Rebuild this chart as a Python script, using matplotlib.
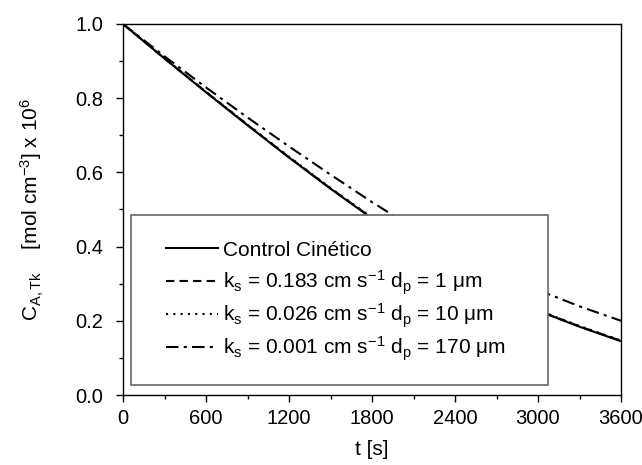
import matplotlib
matplotlib.use("Agg")
import matplotlib.pyplot as plt
from matplotlib.patches import Rectangle
from matplotlib.legend import Legend
from matplotlib.ticker import MultipleLocator, FormatStrFormatter

plt.rcParams['font.family'] = ['Liberation Sans', 'DejaVu Sans']
plt.rcParams['mathtext.default'] = 'regular'
plt.rcParams['font.size'] = 15

t = [0, 300, 600, 900, 1200, 1500, 1800, 2100, 2400, 2700, 3000, 3300, 3600]
control = [1.0, 0.907, 0.816, 0.727, 0.640, 0.556, 0.476, 0.402, 0.335, 0.277, 0.227, 0.184, 0.145]
ks_0183 = [1.0, 0.907, 0.817, 0.728, 0.641, 0.557, 0.477, 0.403, 0.336, 0.278, 0.228, 0.185, 0.146]
ks_0026 = [1.0, 0.908, 0.817, 0.729, 0.642, 0.558, 0.478, 0.404, 0.337, 0.279, 0.229, 0.186, 0.147]
ks_0001 = [1.0, 0.913, 0.829, 0.748, 0.670, 0.594, 0.520, 0.450, 0.388, 0.333, 0.283, 0.239, 0.200]

labels = ["Control Cinético",
          r"k$_s$ = 0.183 cm s$^{-1}$ d$_p$ = 1 μm",
          r"k$_s$ = 0.026 cm s$^{-1}$ d$_p$ = 10 μm",
          r"k$_s$ = 0.001 cm s$^{-1}$ d$_p$ = 170 μm"]

fig = plt.figure(figsize=(6.42, 4.65), dpi=100)
ax = fig.add_axes([123/642, 1-395/465, 498/642, 371/465])

lw = 1.5
h1, = ax.plot(t, control, color='black', lw=lw, ls='-')
h2, = ax.plot(t, ks_0183, color='black', lw=lw, ls=(0, (4, 2.5)))
h3, = ax.plot(t, ks_0026, color='black', lw=lw, ls=(0, (1, 2.5)))
h4, = ax.plot(t, ks_0001, color='black', lw=lw, ls=(0, (6, 2.5, 1.5, 2.5)))
handles = [h1, h2, h3, h4]

ax.set_xlim(0, 3600)
ax.set_ylim(0, 1.0)
ax.xaxis.set_major_locator(MultipleLocator(600))
ax.xaxis.set_minor_locator(MultipleLocator(300))
ax.yaxis.set_major_locator(MultipleLocator(0.2))
ax.yaxis.set_minor_locator(MultipleLocator(0.1))
ax.yaxis.set_major_formatter(FormatStrFormatter('%.1f'))
ax.tick_params(which='major', direction='out', length=5, width=1, labelsize=14.5)
ax.tick_params(axis='y', which='major', pad=9)
ax.tick_params(axis='x', which='major', pad=5)
ax.tick_params(which='minor', direction='out', length=3, width=1)
for s in ax.spines.values():
    s.set_linewidth(1)

ax.set_xlabel("t [s]", fontsize=15, labelpad=9)
ax.set_ylabel(r"C$_{A,Tk}$    [mol cm$^{-3}$] x 10$^{6}$", fontsize=15, labelpad=21)

# legend box
rect = Rectangle((8/498, 10/371), (548-131)/498, (385-215)/371, transform=ax.transAxes,
                 facecolor='white', edgecolor='#666666', lw=1.2, zorder=5)
ax.add_patch(rect)

row_px = [250, 283, 316, 349]
for h, lab, py in zip(handles, labels, row_px):
    lg = Legend(ax, [h], [lab], loc='center left',
                bbox_to_anchor=((166-123)/498, (395-py)/371), frameon=False,
                handlelength=2.5, handletextpad=0.25,
                borderpad=0, borderaxespad=0, fontsize=15)
    lg.set_zorder(6)
    ax.add_artist(lg)

fig.savefig("out.png", dpi=100)
